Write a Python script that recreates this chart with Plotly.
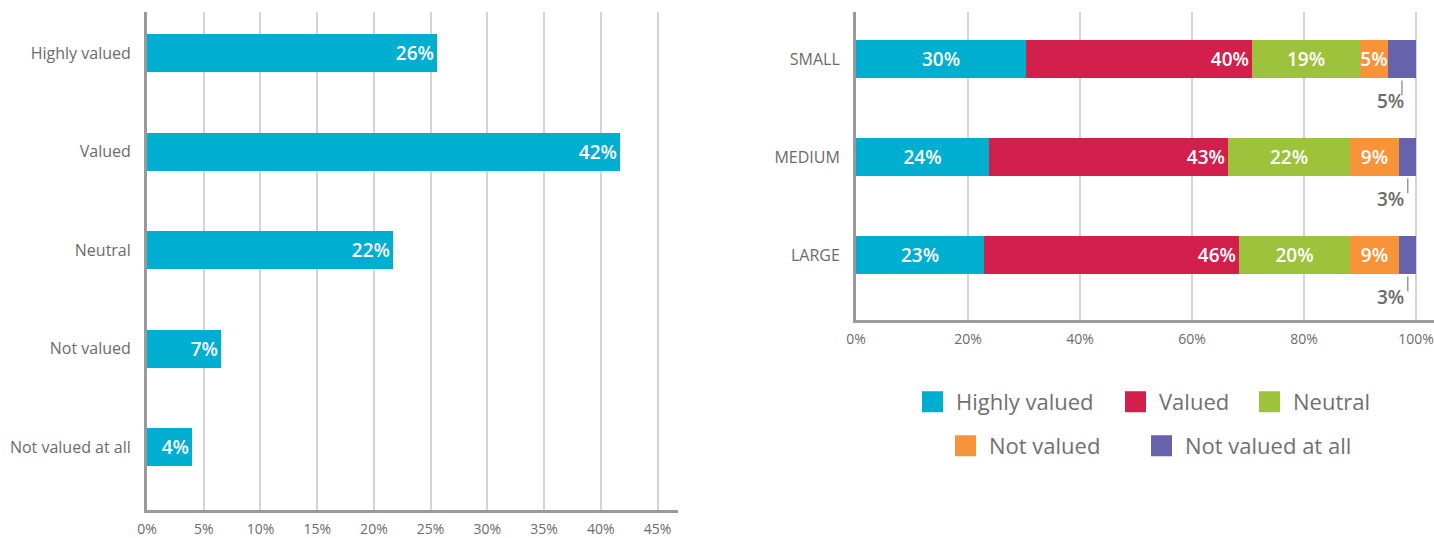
import plotly.graph_objects as go

# ---------------- data ----------------
levels = ["Highly valued", "Valued", "Neutral", "Not valued", "Not valued at all"]
overall_values = [25.6, 41.7, 21.7, 6.5, 4.0]
overall_labels = ["26%", "42%", "22%", "7%", "4%"]

sizes = ["SMALL", "MEDIUM", "LARGE"]
highly_valued = [30, 24, 23]
valued = [40, 43, 46]
neutral = [19, 22, 20]
not_valued = [5, 9, 9]
not_valued_at_all = [5, 3, 3]

left_ticks = [0, 5, 10, 15, 20, 25, 30, 35, 40, 45]
right_ticks = [0, 20, 40, 60, 80, 100]

# ---------------- styles ----------------
colors = ["#00AECF", "#D31F4B", "#9DC23C", "#F7943A", "#6662AC"]
grey_text = "#6b6b6b"
axis_col = "#9a9a9a"
grid_col = "#d4d4d4"
FONT = "Open Sans"
label_font = dict(family=FONT, size=19, color="white", weight=600)

W, H = 1434, 538
def px_x(p): return p / W
def px_y(p): return 1 - p / H

fig = go.Figure()

# ---- left chart ----
fig.add_trace(go.Bar(
    y=levels, x=overall_values, orientation="h",
    marker=dict(color=colors[0], line=dict(width=0)),
    width=0.386,
    text=overall_labels, textposition="inside", insidetextanchor="end",
    textangle=0, constraintext="none", textfont=label_font,
    showlegend=False, hoverinfo="skip", xaxis="x", yaxis="y",
))

# ---- right chart: 100% stacked ----
series = [highly_valued, valued, neutral, not_valued, not_valued_at_all]
totals = [sum(s[i] for s in series) for i in range(len(sizes))]
shares = [[s[i] / totals[i] * 100 for i in range(len(sizes))] for s in series]
anchors = ["middle", "end", "middle", "middle", "middle"]

for k, (name, vals, sh) in enumerate(zip(levels, series, shares)):
    last = (k == len(levels) - 1)
    fig.add_trace(go.Bar(
        y=sizes, x=sh, orientation="h", name=name,
        marker=dict(color=colors[k], line=dict(width=0)),
        width=0.388,
        text=None if last else [f"{v}%" for v in vals],
        textposition="none" if last else "inside",
        insidetextanchor=anchors[k], textangle=0, constraintext="none",
        textfont=label_font,
        showlegend=False, hoverinfo="skip", xaxis="x2", yaxis="y2",
    ))

# purple-segment callouts
for i, cat in enumerate(sizes):
    start = sum(shares[k][i] for k in range(4))
    end = start + shares[4][i]
    mid = (start + end) / 2
    fig.add_shape(type="line", xref="x2", yref="y2",
                  x0=mid, x1=mid, y0=i + 0.22, y1=i + 0.37,
                  line=dict(color=axis_col, width=1.5))
    fig.add_annotation(xref="x2", yref="y2", x=end, y=i, xanchor="right",
                       yanchor="middle", xshift=-10, yshift=-42,
                       text=f"{not_valued_at_all[i]}%", showarrow=False,
                       font=dict(family=FONT, size=19, color=grey_text, weight=600))

tickfont = dict(family=FONT, size=16, color=grey_text)
xtickfont = dict(family=FONT, size=14, color=grey_text)
legfont = dict(family=FONT, size=22, color="#707070")

# legend: one single-item legend per level, laid out in two centred rows
legend_left_px = [922, 1125, 1259, 955, 1151]   # left edge of each colour square
legend_row_px = [402, 402, 402, 446, 446]
SQUARE_OFFSET = 13
legend_layouts = {}
for k, name in enumerate(levels):
    lname = "legend" if k == 0 else f"legend{k + 1}"
    fig.add_trace(go.Scatter(
        x=[None], y=[None], mode="markers", name=name,
        marker=dict(symbol="square", size=16, color=colors[k],
                    line=dict(color=colors[k], width=5)),
        legend=lname, xaxis="x2", yaxis="y2", hoverinfo="skip",
    ))
    legend_layouts[lname] = dict(
        orientation="h", x=px_x(legend_left_px[k] - SQUARE_OFFSET),
        y=px_y(legend_row_px[k]), xanchor="left", yanchor="middle",
        font=legfont, itemwidth=37, bgcolor="rgba(0,0,0,0)",
        itemsizing="trace", itemclick=False, itemdoubleclick=False)

fig.update_layout(
    width=W, height=H,
    margin=dict(l=0, r=0, t=0, b=0),
    paper_bgcolor="white", plot_bgcolor="white",
    barmode="stack", bargap=0,
    xaxis=dict(domain=[px_x(147), px_x(678)], range=[0, 46.8],
               tickvals=left_ticks, ticktext=[f"{t}%" for t in left_ticks],
               showgrid=True, gridcolor=grid_col, gridwidth=1.5,
               showline=True, linecolor=axis_col, linewidth=3,
               zeroline=False, ticks="", tickfont=xtickfont,
               ticklabelstandoff=4, automargin=False, fixedrange=True),
    yaxis=dict(domain=[px_y(510), px_y(12)], range=[4.64, -0.42],
               type="category", categoryorder="array", categoryarray=levels,
               showgrid=False, showline=True, linecolor=axis_col, linewidth=3,
               ticks="", tickfont=tickfont, ticklabelstandoff=10,
               automargin=False, fixedrange=True),
    xaxis2=dict(domain=[px_x(856), 1.0], range=[0, 103.2], anchor="y2",
                tickvals=right_ticks, ticktext=[f"{t}%" for t in right_ticks],
                showgrid=True, gridcolor=grid_col, gridwidth=1.5,
                showline=True, linecolor=axis_col, linewidth=3,
                zeroline=False, ticks="", tickfont=xtickfont,
                ticklabelstandoff=4, automargin=False, fixedrange=True),
    yaxis2=dict(domain=[px_y(320), px_y(12)], range=[2.663, -0.48], anchor="x2",
                type="category", categoryorder="array", categoryarray=sizes,
                showgrid=False, showline=True, linecolor=axis_col, linewidth=3,
                ticks="", tickfont=tickfont, ticklabelstandoff=10,
                automargin=False, fixedrange=True),
    **legend_layouts,
)

fig.write_html("out.html", config={"displayModeBar": False},
               post_script="document.body.style.margin='0px';document.body.style.overflow='hidden';")
